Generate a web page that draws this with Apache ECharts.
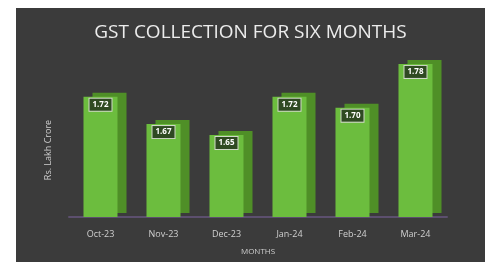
<!DOCTYPE html>
<html>
<head>
<meta charset="utf-8">
<script src="https://cdn.jsdelivr.net/npm/echarts@6/dist/echarts.min.js"></script>
<style>
  html, body { margin: 0; padding: 0; background: #ffffff; }
  #gstChart { position: absolute; left: 16px; top: 8px; width: 469px; height: 254px; }
</style>
</head>
<body>
<div id="gstChart"></div>
<script>
// chart data
var months = ['Oct-23', 'Nov-23', 'Dec-23', 'Jan-24', 'Feb-24', 'Mar-24'];
var collection = [1.72, 1.67, 1.65, 1.72, 1.70, 1.78];

var chartDom = document.getElementById('gstChart');
var myChart = echarts.init(chartDom);
var option = {
  backgroundColor: '#3b3b3b',
  animation: false,
  title: {
    text: 'GST COLLECTION FOR SIX MONTHS',
    left: 'center',
    top: 10,
    textStyle: { color: '#ececec', fontSize: 19, fontWeight: 'normal', fontFamily: 'Open Sans' },
  },
  grid: { left: 53, right: 38, top: 45, bottom: 45 },
  xAxis: {
    type: 'category',
    data: months,
    name: 'MONTHS',
    nameLocation: 'middle',
    nameGap: 31,
    nameTextStyle: { color: '#cfcfcf', fontSize: 8, fontFamily: 'Open Sans' },
    axisTick: { show: false },
    axisLine: { lineStyle: { color: '#5c4f6e', width: 2 } },
    axisLabel: { color: '#cfcfcf', fontSize: 9, margin: 13, fontFamily: 'Open Sans' },
  },
  yAxis: {
    type: 'value',
    min: 1.5,
    max: 1.8,
    name: 'Rs. Lakh Crore',
    nameLocation: 'middle',
    nameGap: 16,
    nameTextStyle: { color: '#cfcfcf', fontSize: 9, fontFamily: 'Open Sans', padding: [0, 30, 0, 0] },
    axisLabel: { show: false },
    axisLine: { show: false },
    axisTick: { show: false },
    splitLine: { show: false },
  },
  series: [
    {
      type: 'bar',
      data: collection,
      barWidth: '54%',
      itemStyle: {
        color: '#6cbd3e',
        shadowColor: '#4f8f27',
        shadowBlur: 0,
        shadowOffsetX: 9,
        shadowOffsetY: -4,
      },
      label: {
        show: true,
        position: 'insideTop',
        distance: 2,
        formatter: function (p) { return p.value.toFixed(2); },
        color: '#ffffff',
        fontSize: 8,
        fontWeight: 'bold',
        fontFamily: 'Open Sans',
        backgroundColor: '#2f4a22',
        borderColor: '#cfd8c8',
        borderWidth: 1,
        padding: [2, 3],
      },
    },
  ],
};
option && myChart.setOption(option);
</script>
</body>
</html>
